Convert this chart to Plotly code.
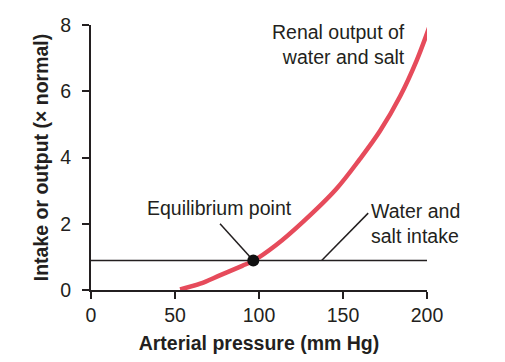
import plotly.graph_objects as go

# Renal output curve (arterial pressure mm Hg -> intake/output x normal)
pressure = [53, 65, 77, 90, 96.6, 110, 126, 146, 160, 172, 184, 194, 201.8]
output = [0.02, 0.19, 0.45, 0.73, 0.88, 1.35, 2.05, 3.05, 3.95, 4.8, 5.85, 6.95, 8.0]

intake_x = [0, 200]
intake_y = [0.89, 0.89]

eq_x = [96.6]
eq_y = [0.89]

x_ticks = [0, 50, 100, 150, 200]
y_ticks = [0, 2, 4, 6, 8]

TXT = "#231f20"
FONT = "Arial, Liberation Sans, sans-serif"
FS = 19.5

fig = go.Figure()
fig.add_trace(go.Scatter(x=intake_x, y=intake_y, mode="lines",
                         line=dict(color=TXT, width=1.5), hoverinfo="skip"))
fig.add_trace(go.Scatter(x=pressure, y=output, mode="lines",
                         line=dict(color="#e64b5b", width=4.5, shape="spline", smoothing=1),
                         hoverinfo="skip"))
# pointer lines
fig.add_trace(go.Scatter(x=[76.8, 96.6], y=[2.0, 0.89], mode="lines",
                         line=dict(color=TXT, width=1.5), hoverinfo="skip"))
fig.add_trace(go.Scatter(x=[137.3, 165], y=[0.89, 2.32], mode="lines",
                         line=dict(color=TXT, width=1.5), hoverinfo="skip"))
fig.add_trace(go.Scatter(x=eq_x, y=eq_y, mode="markers",
                         marker=dict(color="#111111", size=12), cliponaxis=False))

fig.add_annotation(x=188, y=7.4, xref="x", yref="y",
                   text="Renal output of<br>water and salt", showarrow=False,
                   xanchor="right", yanchor="middle", align="right",
                   font=dict(size=FS, color=TXT, family=FONT))
fig.add_annotation(x=76.2, y=2.48, xref="x", yref="y",
                   text="Equilibrium point", showarrow=False,
                   xanchor="center", yanchor="middle",
                   font=dict(size=FS, color=TXT, family=FONT))
fig.add_annotation(x=165.5, y=2.0, xref="x", yref="y",
                   text="Water and<br>salt intake", showarrow=False,
                   xanchor="left", yanchor="middle", align="left",
                   font=dict(size=FS, color=TXT, family=FONT))

fig.update_layout(
    width=489, height=346,
    margin=dict(l=83, r=70, t=17, b=64, autoexpand=False),
    plot_bgcolor="white", paper_bgcolor="white",
    showlegend=False,
    font=dict(family=FONT, color=TXT, size=FS),
    xaxis=dict(range=[0, 200], tickvals=x_ticks, ticks="outside", ticklen=7,
               tickwidth=2, tickcolor=TXT, showline=True, linewidth=2,
               linecolor=TXT, showgrid=False, zeroline=False,
               tickfont=dict(size=FS, color=TXT, family=FONT),
               title=dict(text="<b>Arterial pressure (mm Hg)</b>", standoff=11,
                          font=dict(size=FS, color=TXT, family=FONT))),
    yaxis=dict(range=[0, 8], tickvals=y_ticks, ticks="outside", ticklen=7,
               tickwidth=2, tickcolor=TXT, showline=True, linewidth=2,
               linecolor=TXT, showgrid=False, zeroline=False,
               ticklabelstandoff=7,
               tickfont=dict(size=FS, color=TXT, family=FONT),
               title=dict(text="<b>Intake or output (× normal)</b>", standoff=6,
                          font=dict(size=FS, color=TXT, family=FONT))),
)

fig.write_html("out.html")
